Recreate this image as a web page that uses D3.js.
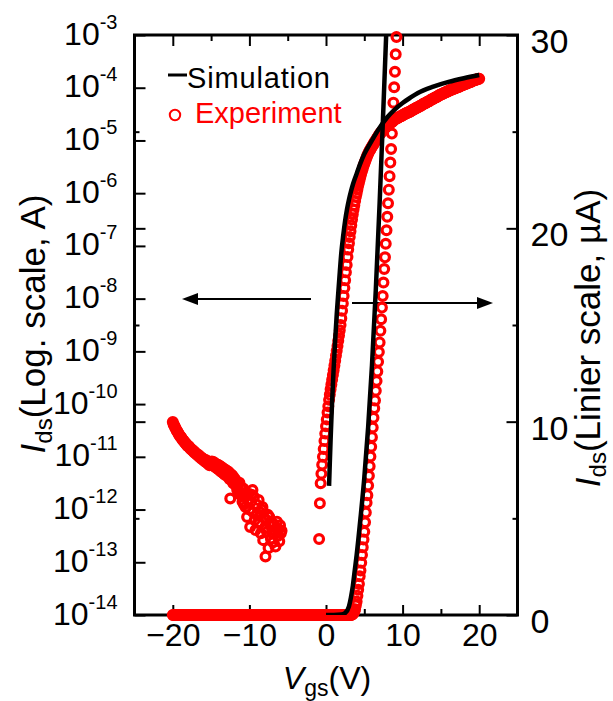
<!DOCTYPE html>
<html>
<head>
<meta charset="utf-8">
<script src="https://cdn.jsdelivr.net/npm/d3@7"></script>
<style>
  body { margin: 0; background: #fff; }
  text { font-family: "Liberation Sans", Arial, sans-serif; }
</style>
</head>
<body>
<svg id="chart" width="613" height="701"></svg>
<script>
// ---- data ----
// x axis ticks
const xMajorTicks = [-20, -10, 0, 10, 20];
const xMinorTicks = [-15, -5, 5, 15];
// left (log) axis decades, right (linear) axis in uA
const logDecades = [-14, -13, -12, -11, -10, -9, -8, -7, -6, -5, -4, -3];
const linMajorTicks = [0, 10, 20, 30];
const linMinorTicks = [5, 15, 25];

// simulation, log scale (exponent of Ids in A)
const simLogV = [0.4, 0.5, 0.6, 0.7, 0.8, 0.9, 1.0, 1.2, 1.4, 1.6, 1.8, 2.0, 2.25, 2.5, 2.75, 3.0, 3.25, 3.5, 3.75, 4.0, 4.5, 5.0, 6.0, 7.0, 8.0, 9.0, 10, 11, 12, 14, 16, 18, 20];
const simLogExp = [-11.55, -11.1, -10.68, -10.3, -9.95, -9.62, -9.32, -8.78, -8.3, -7.89, -7.5, -7.13, -6.8, -6.52, -6.3, -6.12, -5.97, -5.84, -5.73, -5.63, -5.43, -5.26, -5.0, -4.76, -4.56, -4.41, -4.29, -4.19, -4.1, -3.98, -3.89, -3.82, -3.76];

// simulation, linear scale (uA)
const simLinV = [0, 1, 2, 2.5, 3.0, 3.25, 3.5, 3.75, 4.0, 4.5, 5.0, 5.5, 6.0, 6.5, 7.0, 7.5, 8.0];
const simLinI = [0, 0, 0.02, 0.1, 0.45, 0.9, 1.5, 2.3, 3.1, 5.0, 7.1, 9.7, 12.9, 16.8, 21.3, 26.3, 31.5];

// experiment, 0.1 V sweep step
const sweepStep = 0.1;
// off state, log scale exponent, from -20 V
const expOffStart = -20;
const expOffExp = [
  -10.34, -10.38, -10.41, -10.44, -10.47, -10.50, -10.52, -10.55, -10.57, -10.60,
  -10.62, -10.63, -10.66, -10.68, -10.69, -10.72, -10.73, -10.75, -10.76, -10.79,
  -10.80, -10.80, -10.83, -10.84, -10.86, -10.86, -10.88, -10.90, -10.90, -10.93,
  -10.93, -10.95, -10.95, -10.98, -10.97, -11.00, -11.02, -11.01, -11.04, -11.03,
  -11.06, -11.05, -11.09, -11.06, -11.11, -11.08, -11.13, -11.10, -11.16, -11.12,
  -11.13, -11.09, -11.16, -11.10, -11.18, -11.12, -11.20, -11.14, -11.22, -11.15,
  -11.24, -11.17, -11.27, -11.19, -11.29, -11.21, -11.31, -11.23, -11.34, -11.25,
  -11.33, -11.27, -11.38, -11.29, -11.42, -11.79, -11.33, -11.45, -11.36, -11.50,
  -11.40, -11.52, -11.44, -11.48, -11.62, -11.50, -11.68, -11.49, -11.72, -11.58,
  -11.68, -11.85, -11.60, -11.90, -11.70, -11.95, -11.74, -12.14, -11.82, -11.70,
  -12.00, -12.33, -11.85, -11.72, -11.63, -12.05, -11.76, -12.20, -12.39, -11.90,
  -12.10, -12.25, -11.82, -12.26, -12.05, -12.45, -12.00, -11.95, -12.58, -12.15,
  -12.35, -12.89, -12.20, -12.42, -12.10, -12.73, -12.14, -12.30, -12.55, -12.25,
  -12.45, -12.62, -12.28, -12.40, -12.70, -12.35, -12.23, -12.50, -12.38, -12.60,
  -12.30, -12.45, -12.40
];
// turn-on branch, log scale exponent, from -0.9 V
const expOnStart = -0.9;
const expOnExp = [
  -12.56, -11.88,
  -11.50, -11.32, -11.15, -11.00, -10.85, -10.70, -10.56,
  -10.42, -10.29, -10.16, -10.04, -9.92, -9.82, -9.72, -9.63, -9.54, -9.45,
  -9.36, -9.27, -9.18, -9.08, -8.99, -8.90, -8.80, -8.70, -8.60, -8.50,
  -8.37, -8.23, -8.09, -7.95, -7.80, -7.65, -7.50, -7.36, -7.21, -7.07,
  -6.95, -6.83, -6.72, -6.61, -6.50, -6.40, -6.31, -6.23, -6.15, -6.07,
  -6.00, -5.93, -5.86, -5.80, -5.74, -5.68, -5.62, -5.58, -5.53, -5.48,
  -5.44, -5.40, -5.36, -5.32, -5.28, -5.25, -5.22, -5.19, -5.17, -5.14,
  -5.12, -5.09, -5.07, -5.04, -5.02, -5.00, -4.97, -4.95, -4.93, -4.90,
  -4.88, -4.86, -4.85, -4.83, -4.81, -4.80, -4.78, -4.76, -4.75, -4.73,
  -4.72, -4.71, -4.70, -4.68, -4.67, -4.66, -4.65, -4.64, -4.62, -4.61,
  -4.60, -4.59, -4.58, -4.58, -4.57, -4.56, -4.55, -4.54, -4.54, -4.53,
  -4.52, -4.51, -4.51, -4.50, -4.49, -4.48, -4.48, -4.47, -4.46, -4.46,
  -4.45, -4.44, -4.43, -4.42, -4.42, -4.41, -4.40, -4.39, -4.38, -4.38,
  -4.37, -4.36, -4.35, -4.34, -4.34, -4.33, -4.32, -4.31, -4.30, -4.30,
  -4.29, -4.28, -4.27, -4.26, -4.26, -4.25, -4.24, -4.23, -4.22, -4.22,
  -4.21, -4.20, -4.19, -4.18, -4.18, -4.17, -4.16, -4.15, -4.14, -4.14,
  -4.13, -4.12, -4.12, -4.11, -4.10, -4.09, -4.09, -4.08, -4.07, -4.07,
  -4.06, -4.05, -4.05, -4.04, -4.04, -4.03, -4.02, -4.02, -4.01, -4.01,
  -4.00, -3.99, -3.99, -3.98, -3.98, -3.97, -3.96, -3.96, -3.95, -3.95,
  -3.94, -3.93, -3.93, -3.92, -3.92, -3.91, -3.90, -3.90, -3.89, -3.89,
  -3.88, -3.87, -3.87, -3.86, -3.86, -3.85, -3.85, -3.84, -3.84, -3.83,
  -3.83
];
// linear scale (uA): flat part from -20 V, rising part from 3.3 V
const expLinOffStart = -20;
const expLinOff = [
  0,0,0,0,0,0,0,0,0,0,0,0,0,0,0,0,0,0,0,0,
  0,0,0,0,0,0,0,0,0,0,0,0,0,0,0,0,0,0,0,0,
  0,0,0,0,0,0,0,0,0,0,0,0,0,0,0,0,0,0,0,0,
  0,0,0,0,0,0,0,0,0,0,0,0,0,0,0,0,0,0,0,0,
  0,0,0,0,0,0,0,0,0,0,0,0,0,0,0,0,0,0,0,0,
  0,0,0,0,0,0,0,0,0,0,0,0,0,0,0,0,0,0,0,0,
  0,0,0,0,0,0,0,0,0,0,0,0,0,0,0,0,0,0,0,0,
  0,0,0,0,0,0,0,0,0,0,0,0,0,0,0,0,0,0,0,0,
  0,0,0,0,0,0,0,0,0,0,0,0,0,0,0,0,0,0,0,0,
  0,0,0,0,0,0,0,0,0,0,0,0,0,0,0,0,0,0,0,0,
  0,0,0,0,0,0,0,0,0,0,0,0,0,0,0,0,0,0,0,0,
  0,0,0,0,0,0,0,0,0,0,0,0,0
];
const expLinOnStart = 3.3;
const expLinOn = [
  0.0, 0.02, 0.05, 0.1, 0.18, 0.3, 0.5, 0.7, 1.0, 1.3,
  1.6, 2.0, 2.3, 2.7, 3.1, 3.5, 3.9, 4.3, 4.8, 5.3,
  5.8, 6.2, 6.7, 7.2, 7.7, 8.2, 8.7, 9.2, 9.7, 10.2,
  10.7, 11.1, 11.6, 12.1, 12.6, 13.1, 13.6, 14.1, 14.7, 15.3,
  15.9, 16.5, 17.2, 17.9, 18.5, 19.2, 19.9, 20.6, 21.3, 22.0,
  22.7, 23.4, 24.1, 24.9, 25.7, 26.5, 27.3, 28.1, 29.0, 29.9
];

// ---- layout ----
const svg = d3.select('#chart');
const plot = { left: 134.5, right: 517.5, top: 35, bottom: 615 };
const red = '#ff0000';

const x = d3.scaleLinear().domain([-25, 25]).range([plot.left, plot.right]);
const yLog = d3.scaleLog().domain([1e-14, 1e-3]).range([plot.bottom, plot.top]);
const yLin = d3.scaleLinear().domain([0, 30]).range([plot.bottom, plot.top]);

function cleanAxis(g) {
  g.select('.domain').remove();
  g.selectAll('.tick line').attr('stroke', '#000').attr('stroke-width', 2);
  g.attr('font-family', null).attr('font-size', null);
}

// frame
svg.append('rect')
  .attr('x', plot.left).attr('y', plot.top)
  .attr('width', plot.right - plot.left).attr('height', plot.bottom - plot.top)
  .attr('fill', 'none').attr('stroke', '#000').attr('stroke-width', 3);

// left log axis
const gLeft = svg.append('g').attr('transform', `translate(${plot.left},0)`)
  .call(d3.axisLeft(yLog).tickValues(logDecades.map(d => Math.pow(10, d)))
    .tickSize(-11).tickSizeOuter(0).tickPadding(17).tickFormat(''))
  .call(cleanAxis);
gLeft.selectAll('.tick text')
  .attr('dy', null).attr('y', 9).attr('text-anchor', 'end')
  .attr('font-size', 32).attr('fill', '#000')
  .each(function(d) {
    const t = d3.select(this);
    t.append('tspan').text('10');
    t.append('tspan').attr('font-size', 20).attr('dy', -16)
      .text(String(Math.round(Math.log10(d))));
  });

// linear ticks mirrored on the left spine
svg.append('g').attr('transform', `translate(${plot.left},0)`)
  .call(d3.axisLeft(yLin).tickValues([10, 20]).tickSize(-11).tickSizeOuter(0).tickFormat(''))
  .call(cleanAxis);
svg.append('g').attr('transform', `translate(${plot.left},0)`)
  .call(d3.axisLeft(yLin).tickValues(linMinorTicks).tickSize(-5).tickSizeOuter(0).tickFormat(''))
  .call(cleanAxis);

// right linear axis
const gRight = svg.append('g').attr('transform', `translate(${plot.right},0)`)
  .call(d3.axisRight(yLin).tickValues(linMajorTicks).tickSize(-11).tickSizeOuter(0).tickPadding(13))
  .call(cleanAxis);
gRight.selectAll('.tick text').attr('dy', null).attr('y', 17.5)
  .attr('font-size', 34).attr('fill', '#000');
svg.append('g').attr('transform', `translate(${plot.right},0)`)
  .call(d3.axisRight(yLin).tickValues(linMinorTicks).tickSize(-5).tickSizeOuter(0).tickFormat(''))
  .call(cleanAxis);

// bottom axis
const gBottom = svg.append('g').attr('transform', `translate(0,${plot.bottom})`)
  .call(d3.axisBottom(x).tickValues(xMajorTicks).tickSize(-10).tickSizeOuter(0).tickPadding(8))
  .call(cleanAxis);
gBottom.selectAll('.tick text').attr('font-size', 32).attr('fill', '#000');
svg.append('g').attr('transform', `translate(0,${plot.bottom})`)
  .call(d3.axisBottom(x).tickValues(xMinorTicks).tickSize(-6).tickSizeOuter(0).tickFormat(''))
  .call(cleanAxis);

// top axis
svg.append('g').attr('transform', `translate(0,${plot.top})`)
  .call(d3.axisTop(x).tickValues(xMajorTicks).tickSize(-11).tickSizeOuter(0).tickFormat(''))
  .call(cleanAxis);
svg.append('g').attr('transform', `translate(0,${plot.top})`)
  .call(d3.axisTop(x).tickValues(xMinorTicks).tickSize(-6).tickSizeOuter(0).tickFormat(''))
  .call(cleanAxis);

// axis titles
const xTitle = svg.append('text').attr('x', 327).attr('y', 689)
  .attr('text-anchor', 'middle').attr('font-size', 32);
xTitle.append('tspan').attr('font-style', 'italic').text('V');
xTitle.append('tspan').attr('font-size', 23).attr('dy', 7).text('gs');
xTitle.append('tspan').attr('dy', -7).text('(V)');

const yTitleL = svg.append('text').attr('transform', 'translate(45,324) rotate(-90)')
  .attr('text-anchor', 'middle').attr('font-size', 35);
yTitleL.append('tspan').attr('font-style', 'italic').text('I');
yTitleL.append('tspan').attr('font-size', 24).attr('dy', 7).text('ds');
yTitleL.append('tspan').attr('dy', -7).text('(Log. scale, A)');

const yTitleR = svg.append('text').attr('transform', 'translate(600,338) rotate(-90)')
  .attr('text-anchor', 'middle').attr('font-size', 35);
yTitleR.append('tspan').attr('font-style', 'italic').text('I');
yTitleR.append('tspan').attr('font-size', 24).attr('dy', 6).text('ds');
yTitleR.append('tspan').attr('dy', -6).text('(Linier scale, \u00b5A)');

// direction arrows
function arrow(x0, x1, y) {
  const dir = x1 > x0 ? 1 : -1;
  svg.append('line').attr('x1', x0).attr('x2', x1 - dir * 14).attr('y1', y).attr('y2', y)
    .attr('stroke', '#000').attr('stroke-width', 2);
  svg.append('path')
    .attr('d', `M${x1},${y}L${x1 - dir * 16},${y - 6}L${x1 - dir * 16},${y + 6}Z`)
    .attr('fill', '#000');
}
arrow(311, 182, 299);
arrow(352, 493, 303);

// ---- experiment points ----
const expLogPts = expOffExp.map((e, i) => [expOffStart + i * sweepStep, Math.pow(10, e)])
  .concat(expOnExp.map((e, i) => [expOnStart + i * sweepStep, Math.pow(10, e)]));
const expLinPts = expLinOff.map((v, i) => [expLinOffStart + i * sweepStep, v])
  .concat(expLinOn.map((v, i) => [expLinOnStart + i * sweepStep, v]))
  .filter(d => d[1] <= 30.2);

const gExp = svg.append('g').attr('fill', 'none').attr('stroke', red).attr('stroke-width', 3.2);
gExp.selectAll('circle.log').data(expLogPts).enter().append('circle')
  .attr('class', 'log')
  .attr('cx', d => x(d[0])).attr('cy', d => yLog(d[1])).attr('r', 4.4);
gExp.selectAll('circle.lin').data(expLinPts).enter().append('circle')
  .attr('class', 'lin')
  .attr('cx', d => x(d[0])).attr('cy', d => yLin(d[1])).attr('r', 4.4);

// ---- simulation lines ----
svg.append('clipPath').attr('id', 'plotClip').append('rect')
  .attr('x', plot.left).attr('y', plot.top)
  .attr('width', plot.right - plot.left).attr('height', plot.bottom - plot.top);

const simLog = simLogV.map((v, i) => [v, Math.pow(10, simLogExp[i])]);
const simLin = simLinV.map((v, i) => [v, simLinI[i]]);

svg.append('path').datum(simLog)
  .attr('clip-path', 'url(#plotClip)')
  .attr('fill', 'none').attr('stroke', '#000').attr('stroke-width', 4.5)
  .attr('d', d3.line().x(d => x(d[0])).y(d => yLog(d[1])).curve(d3.curveMonotoneX));
svg.append('path').datum(simLin)
  .attr('clip-path', 'url(#plotClip)')
  .attr('fill', 'none').attr('stroke', '#000').attr('stroke-width', 4.5)
  .attr('d', d3.line().x(d => x(d[0])).y(d => yLin(d[1])).curve(d3.curveMonotoneX));

// ---- legend ----
svg.append('line').attr('x1', 168).attr('x2', 187).attr('y1', 75).attr('y2', 75)
  .attr('stroke', '#000').attr('stroke-width', 3);
svg.append('text').attr('x', 187).attr('y', 88).attr('font-size', 29)
  .attr('textLength', 143).text('Simulation');
svg.append('circle').attr('cx', 175).attr('cy', 115).attr('r', 5.2)
  .attr('fill', 'none').attr('stroke', red).attr('stroke-width', 2);
svg.append('text').attr('x', 195).attr('y', 123).attr('font-size', 29)
  .attr('fill', red).text('Experiment');
</script>
</body>
</html>
